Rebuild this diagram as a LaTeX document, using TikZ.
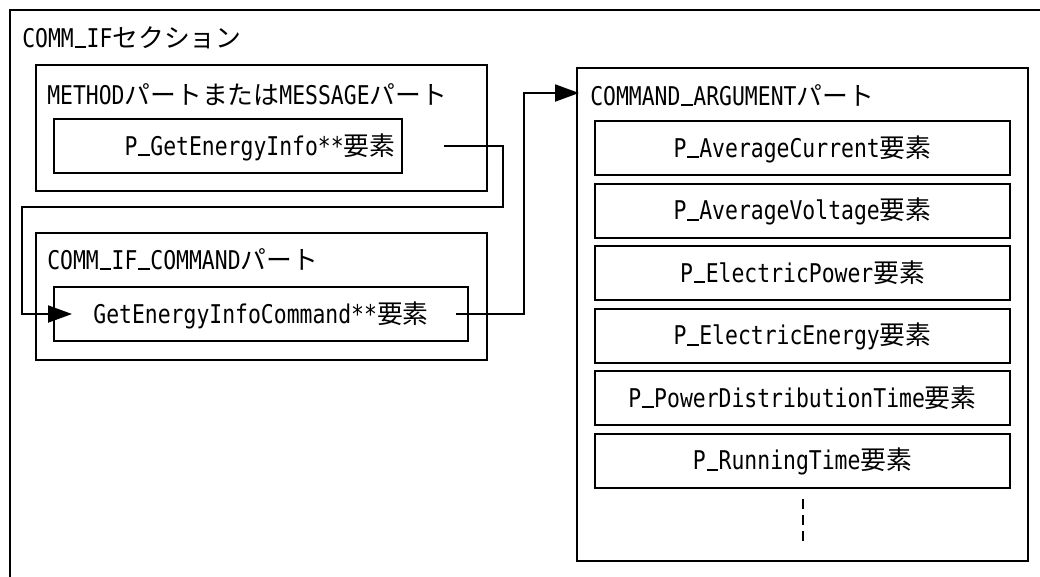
\documentclass[tikz,border=0pt]{standalone}
\usepackage{fontspec}
\setmainfont[FakeStretch=0.83]{DejaVu Sans Mono}
\newfontfamily\jpfont{Noto Sans CJK JP}
\newcommand{\J}[1]{{\jpfont #1}}
\newcommand{\us}{\makebox[9.67pt]{\rule[-0.8pt]{8.6pt}{1.3pt}}}
\usetikzlibrary{arrows.meta,calc}
\tikzset{
  frame/.style={draw, line width=1.5pt, inner sep=0pt},
  boxtext/.style={inner sep=0pt, text height=13.5pt, text depth=0pt},
  lbl/.style={anchor=base west, inner sep=0pt},
  conn/.style={line width=1.5pt, -{Triangle[length=18pt,width=12.75pt]}},
  elem/.style={frame, boxtext, minimum width=311.25pt, minimum height=40.5pt},
}
\begin{document}
\begin{tikzpicture}[x=0.75pt,y=-0.75pt, font=\fontsize{19.35pt}{23pt}\selectfont]
\useasboundingbox (0,0) rectangle (1040,576);
% outer section
\node[frame, anchor=north west, minimum width=795pt, minimum height=450pt] (comm) at (9,9) {};
\node[lbl] (title) at (22,47) {COMM\us IF\J{セクション}};
% METHOD part
\node[frame, minimum width=338.25pt, minimum height=94.5pt] (method) at (261.5,128) {};
\node[lbl] (methodlbl) at (47,104) {METHOD\J{パートまたは}MESSAGE\J{パート}};
\node[frame, minimum width=261pt, minimum height=40.5pt] (pget) at (228,146) {};
\node[boxtext] (pgett) at (260,146) {P\us GetEnergyInfo**\J{要素}};
% COMM_IF_COMMAND part
\node[frame, minimum width=338.25pt, minimum height=95.25pt] (cmdpart) at (261.5,296.5) {};
\node[lbl] (cmdlbl) at (47,269) {COMM\us IF\us COMMAND\J{パート}};
\node[frame, boxtext, minimum width=310.5pt, minimum height=40.5pt] (pcmd) at (261,314) {GetEnergyInfoCommand**\J{要素}};
% COMMAND_ARGUMENT part
\node[frame, minimum width=338.25pt, minimum height=369.75pt] (argpart) at (802.5,314.5) {};
\node[lbl] (arglbl) at (590,105) {COMMAND\us ARGUMENT\J{パート}};
\node[elem] (e1) at (802.5,148) {P\us AverageCurrent\J{要素}};
\node[elem] (e2) at (802.5,210.5) {P\us AverageVoltage\J{要素}};
\node[elem] (e3) at (802.5,273) {P\us ElectricPower\J{要素}};
\node[elem] (e4) at (802.5,335.5) {P\us ElectricEnergy\J{要素}};
\node[elem] (e5) at (802.5,398) {P\us PowerDistributionTime\J{要素}};
\node[elem] (e6) at (802.5,460.5) {P\us RunningTime\J{要素}};
\draw[line width=1.5pt, dash pattern=on 7.5pt off 4.5pt] ($(e6.south)+(0,10.5)$) -- ($(e6.south)+(0,52.5)$);
% connectors
\coordinate (c1s) at ($(pget.east)+(41,0)$);
\coordinate (c1e) at ($(pcmd.west)+(19,0)$);
\draw[conn] (c1s) -- ++(59,0) -- ++(0,61) -- ++(-481,0) |- (c1e);
\coordinate (c2s) at ($(pcmd.east)+(-13,0)$);
\coordinate (c2e) at ($(argpart.north west)+(3,26)$);
\draw[conn] (c2s) -- ++(68,0) |- (c2e);
\end{tikzpicture}
\end{document}
